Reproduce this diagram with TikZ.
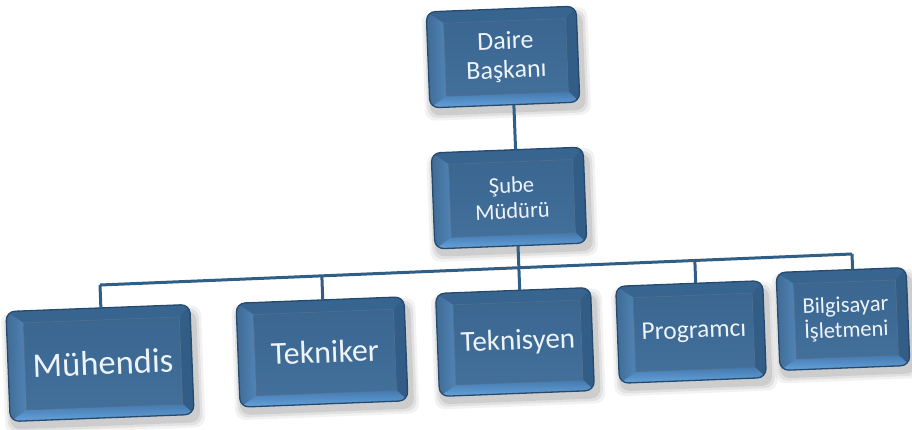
\documentclass[tikz,border=0pt]{standalone}
\usepackage{fontspec}
\setmainfont{Carlito}
\usetikzlibrary{calc}
\definecolor{rim}{HTML}{264A6E}
\definecolor{face}{HTML}{42709B}
\definecolor{facetop}{HTML}{3A6690}
\definecolor{bvtop}{HTML}{376590}
\definecolor{bvleft}{HTML}{5085B8}
\definecolor{bvright}{HTML}{325D86}
\definecolor{bvbot}{HTML}{66A2DC}
\definecolor{bvbotd}{HTML}{4379AE}
\definecolor{connc}{HTML}{2F5E86}
\definecolor{txt}{HTML}{EEF3F8}
\tikzset{
  boxouter/.style={rectangle, rounded corners=9, fill=bvleft, inner sep=0pt},
  boxtext/.style={text=txt, align=center, inner sep=0pt},
  connector/.style={draw=connc, line width=3pt}
}
\newcommand\orgbox[8]{% name, cx, cy (px from top), w, h, size, skip, text
\begin{scope}[shift={(#2,{429-#3})}, rotate=2.2, transform shape]
  \foreach \s/\o in {7/0.05,4.5/0.07,2/0.09}{
    \fill[black, opacity=\o, rounded corners=10] ({-#4/2+2-\s},{-#5/2-6-\s}) rectangle ({#4/2+4+\s},{#5/2-8+\s});
  }
  \node[boxouter, minimum width=#4, minimum height=#5] (#1) at (0,0) {};
  \begin{scope}
    \clip[rounded corners=9] ({-#4/2},{-#5/2}) rectangle ({#4/2},{#5/2});
    \fill[bvtop] ({-#4/2},{#5/2}) -- ({#4/2},{#5/2}) -- ({#4/2-11},{#5/2-12}) -- ({-#4/2+17},{#5/2-12}) -- cycle;
    \fill[bvright] ({#4/2},{#5/2}) -- ({#4/2},{-#5/2}) -- ({#4/2-11},{-#5/2+11}) -- ({#4/2-11},{#5/2-12}) -- cycle;
    \shade[top color=bvbotd, bottom color=bvbot] ({-#4/2},{-#5/2}) -- ({#4/2},{-#5/2}) -- ({#4/2-11},{-#5/2+11}) -- ({-#4/2+17},{-#5/2+11}) -- cycle;
    \shade[left color=bvleft!80!black, right color=bvleft] ({-#4/2},{#5/2}) -- ({-#4/2},{-#5/2}) -- ({-#4/2+17},{-#5/2+11}) -- ({-#4/2+17},{#5/2-12}) -- cycle;
    \shade[top color=facetop, bottom color=face] ({-#4/2+17},{-#5/2+11}) rectangle ({#4/2-11},{#5/2-12});
    \draw[rim!80, line width=0.6pt] ({-#4/2+17},{-#5/2+11}) rectangle ({#4/2-11},{#5/2-12});
  \end{scope}
  \draw[rim, line width=1.3pt, rounded corners=9] ({-#4/2},{-#5/2}) rectangle ({#4/2},{#5/2});
  \node[boxtext, font=\fontsize{#6}{#7}\selectfont] at (3,0) {#8};
\end{scope}}

\begin{document}
\begin{tikzpicture}[x=1pt, y=1pt]
\useasboundingbox (0,0) rectangle (912,429);

% bus reference points
\coordinate (bus1) at (100,{429-285});
\coordinate (bus2) at (852,{429-254});

\orgbox{dab}{503}{57}{150}{96}{26}{29}{Daire\\Başkanı}
\orgbox{sube}{509}{198}{152}{96}{22.5}{26}{Şube\\Müdürü}
\orgbox{muh}{100}{363}{184}{110}{34.5}{34}{Mühendis}
\orgbox{tekr}{322}{352}{168}{104}{32}{32}{Tekniker}
\orgbox{tekn}{515}{342}{155}{103}{29}{29}{Teknisyen}
\orgbox{prog}{691}{332}{147}{97}{25.5}{25}{Programcı}
\orgbox{bilg}{843}{319}{130}{98}{22.5}{25}{Bilgisayar\\İşletmeni}

\coordinate (dtekr) at ($(bus1)!0.295!(bus2)$);
\coordinate (dtekn) at ($(bus1)!0.557!(bus2)$);
\coordinate (dprog) at ($(bus1)!0.791!(bus2)$);
\coordinate (dtop) at ($(dab.south west)!0.56!(dab.south east)$);

\draw[connector] (dtop) -- ($(sube.north west)!(dtop)!(sube.north east)$);
\draw[connector] (bus1) -- (bus2);
\draw[connector] (bus1) -- ($(muh.north west)!(bus1)!(muh.north east)$);
\draw[connector] (dtekr) -- ($(tekr.north west)!(dtekr)!(tekr.north east)$);
\draw[connector] ($(sube.south west)!(dtekn)!(sube.south east)$) -- ($(tekn.north west)!(dtekn)!(tekn.north east)$);
\draw[connector] (dprog) -- ($(prog.north west)!(dprog)!(prog.north east)$);
\draw[connector] (bus2) -- ($(bilg.north west)!(bus2)!(bilg.north east)$);
\end{tikzpicture}
\end{document}
